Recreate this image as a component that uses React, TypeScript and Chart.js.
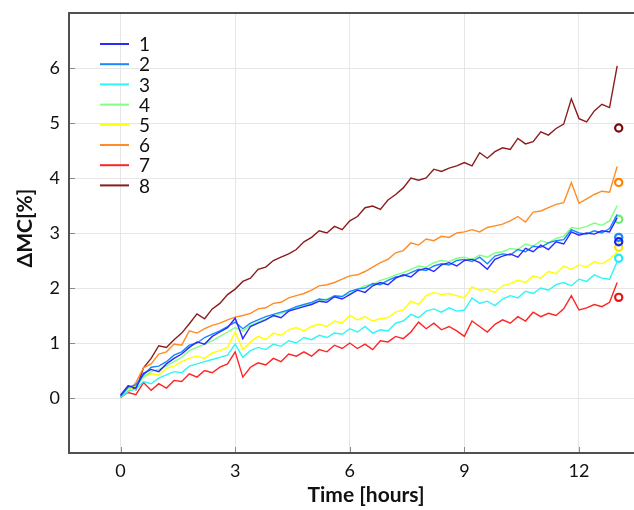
import React, { useEffect, useRef } from "react";
import { Chart, registerables } from "chart.js";

Chart.register(...registerables);

const TIMES = [
  0.0, 0.2, 0.4, 0.6, 0.8, 1.0, 1.2, 1.4, 1.6, 1.8, 2.0, 2.2, 2.4, 2.6, 2.8, 3.0, 3.2, 3.4, 3.6, 3.8,
  4.0, 4.2, 4.4, 4.6, 4.8, 5.0, 5.2, 5.4, 5.6, 5.8, 6.0, 6.2, 6.4, 6.6, 6.8, 7.0, 7.2, 7.4, 7.6, 7.8,
  8.0, 8.2, 8.4, 8.6, 8.8, 9.0, 9.2, 9.4, 9.6, 9.8, 10.0, 10.2, 10.4, 10.6, 10.8, 11.0, 11.2, 11.4, 11.6, 11.8,
  12.0, 12.2, 12.4, 12.6, 12.8, 13.0,
];

const S1 = [
  0.05, 0.22, 0.18, 0.45, 0.52, 0.48, 0.62, 0.72, 0.80, 0.92, 1.02, 0.98, 1.12, 1.20, 1.28, 1.45, 1.08, 1.30, 1.36, 1.42,
  1.50, 1.46, 1.58, 1.62, 1.66, 1.70, 1.76, 1.74, 1.84, 1.80, 1.88, 1.96, 1.92, 2.04, 2.10, 2.06, 2.18, 2.24, 2.20, 2.32,
  2.36, 2.30, 2.42, 2.46, 2.40, 2.50, 2.52, 2.46, 2.34, 2.52, 2.58, 2.62, 2.56, 2.72, 2.66, 2.78, 2.70, 2.84, 2.80, 3.02,
  2.96, 3.00, 2.98, 3.04, 3.02, 3.28,
];
const S2 = [
  0.03, 0.20, 0.24, 0.42, 0.56, 0.58, 0.66, 0.78, 0.84, 0.96, 1.00, 1.10, 1.16, 1.22, 1.30, 1.38, 1.26, 1.36, 1.42, 1.48,
  1.52, 1.56, 1.60, 1.66, 1.70, 1.74, 1.80, 1.78, 1.86, 1.84, 1.94, 1.98, 2.00, 2.08, 2.06, 2.14, 2.20, 2.22, 2.28, 2.34,
  2.32, 2.40, 2.44, 2.42, 2.50, 2.52, 2.48, 2.56, 2.44, 2.58, 2.62, 2.60, 2.70, 2.66, 2.76, 2.74, 2.82, 2.86, 2.88, 3.06,
  3.00, 2.98, 3.04, 3.00, 3.08, 3.34,
];
const S3 = [
  0.02, 0.12, 0.16, 0.30, 0.26, 0.36, 0.42, 0.48, 0.46, 0.58, 0.62, 0.66, 0.70, 0.74, 0.78, 0.98, 0.74, 0.86, 0.92, 0.88,
  0.98, 0.94, 1.04, 1.00, 1.10, 1.06, 1.14, 1.10, 1.18, 1.16, 1.26, 1.20, 1.30, 1.18, 1.24, 1.22, 1.36, 1.40, 1.52, 1.46,
  1.58, 1.62, 1.56, 1.64, 1.58, 1.60, 1.82, 1.72, 1.76, 1.68, 1.80, 1.86, 1.82, 1.94, 1.90, 2.00, 1.96, 2.06, 2.10, 2.04,
  2.16, 2.12, 2.24, 2.18, 2.16, 2.48,
];
const S4 = [
  0.02, 0.18, 0.20, 0.38, 0.48, 0.52, 0.58, 0.66, 0.74, 0.86, 0.92, 0.98, 1.04, 1.12, 1.20, 1.28, 1.22, 1.32, 1.38, 1.44,
  1.48, 1.54, 1.58, 1.64, 1.68, 1.72, 1.76, 1.80, 1.84, 1.86, 1.90, 1.98, 2.04, 2.06, 2.14, 2.18, 2.24, 2.28, 2.34, 2.40,
  2.38, 2.46, 2.50, 2.48, 2.54, 2.56, 2.52, 2.60, 2.56, 2.64, 2.66, 2.72, 2.70, 2.80, 2.76, 2.86, 2.82, 2.90, 2.94, 3.10,
  3.08, 3.12, 3.18, 3.14, 3.22, 3.50,
];
const S5 = [
  0.05, 0.15, 0.22, 0.38, 0.44, 0.42, 0.54, 0.58, 0.66, 0.72, 0.76, 0.72, 0.82, 0.86, 0.92, 1.20, 0.88, 1.02, 1.12, 1.06,
  1.18, 1.14, 1.24, 1.28, 1.22, 1.30, 1.34, 1.30, 1.40, 1.36, 1.50, 1.42, 1.48, 1.40, 1.44, 1.46, 1.56, 1.60, 1.76, 1.70,
  1.86, 1.92, 1.88, 1.90, 1.86, 1.82, 2.02, 1.96, 1.98, 1.92, 2.04, 2.08, 2.14, 2.10, 2.22, 2.18, 2.30, 2.26, 2.40, 2.34,
  2.42, 2.38, 2.48, 2.44, 2.52, 2.66,
];
const S6 = [
  0.00, 0.12, 0.28, 0.55, 0.62, 0.80, 0.84, 0.98, 0.96, 1.22, 1.18, 1.26, 1.32, 1.36, 1.42, 1.47, 1.50, 1.54, 1.62, 1.64,
  1.72, 1.74, 1.82, 1.86, 1.90, 1.96, 2.04, 2.06, 2.10, 2.16, 2.22, 2.24, 2.30, 2.38, 2.46, 2.52, 2.64, 2.68, 2.82, 2.78,
  2.89, 2.86, 2.94, 2.92, 3.00, 3.02, 3.06, 3.02, 3.10, 3.13, 3.16, 3.22, 3.30, 3.20, 3.38, 3.40, 3.46, 3.52, 3.55, 3.92,
  3.54, 3.62, 3.70, 3.76, 3.74, 4.21,
];
const S7 = [
  0.02, 0.10, 0.06, 0.28, 0.14, 0.26, 0.18, 0.32, 0.30, 0.44, 0.38, 0.50, 0.46, 0.56, 0.62, 0.84, 0.38, 0.56, 0.64, 0.60,
  0.72, 0.66, 0.80, 0.76, 0.84, 0.76, 0.88, 0.84, 0.96, 0.90, 1.00, 0.90, 0.98, 0.88, 1.04, 1.02, 1.12, 1.08, 1.20, 1.38,
  1.26, 1.36, 1.24, 1.30, 1.22, 1.12, 1.40, 1.30, 1.20, 1.34, 1.42, 1.36, 1.48, 1.40, 1.56, 1.48, 1.54, 1.50, 1.62, 1.86,
  1.60, 1.64, 1.70, 1.66, 1.74, 2.10,
];
const S8 = [
  0.05, 0.22, 0.15, 0.55, 0.72, 0.95, 0.92, 1.06, 1.18, 1.35, 1.53, 1.44, 1.62, 1.72, 1.88, 1.98, 2.12, 2.18, 2.34, 2.38,
  2.50, 2.56, 2.62, 2.70, 2.84, 2.92, 3.04, 3.00, 3.12, 3.06, 3.22, 3.30, 3.46, 3.49, 3.43, 3.60, 3.70, 3.82, 4.00, 3.96,
  4.00, 4.16, 4.12, 4.18, 4.22, 4.28, 4.22, 4.46, 4.36, 4.48, 4.55, 4.52, 4.72, 4.62, 4.66, 4.84, 4.78, 4.90, 4.98, 5.44,
  5.08, 5.02, 5.22, 5.34, 5.28, 6.04,
];

const SERIES_NAMES = ["1", "2", "3", "4", "5", "6", "7", "8"];
const SERIES = [S1, S2, S3, S4, S5, S6, S7, S8];
const COLORS = ["#2a2aff", "#1a86ff", "#2ff5f5", "#80ff80", "#ffff00", "#ff8c26", "#ff2424", "#8b1c1c"];
const END_TIME = 13.04;
const END_VALUES = [2.84, 2.92, 2.54, 3.25, 2.74, 3.92, 1.83, 4.91];
const END_COLORS = ["#2020ee", "#1a86ff", "#22e8ff", "#66ee66", "#f2e600", "#ff8000", "#ee1111", "#7a0a0a"];

const X_TICKS = [0, 3, 6, 9, 12];
const Y_TICKS = [0, 1, 2, 3, 4, 5, 6];
const X_TITLE = "Time [hours]";
const Y_TITLE = "\u0394MC[%]";

const FONT = "Lato, 'Open Sans', sans-serif";

const overlay = {
  id: "overlay",
  afterDraw(chart: any) {
    const ctx = chart.ctx;
    const a = chart.chartArea;
    const xs = chart.scales.x;
    const ys = chart.scales.y;
    ctx.save();
    // inward tick marks
    ctx.strokeStyle = "#8a8a8a";
    ctx.lineWidth = 1;
    X_TICKS.forEach((v) => {
      const px = Math.round(xs.getPixelForValue(v)) + 0.5;
      ctx.beginPath();
      ctx.moveTo(px, a.bottom);
      ctx.lineTo(px, a.bottom - 6);
      ctx.stroke();
    });
    Y_TICKS.forEach((v) => {
      const py = Math.round(ys.getPixelForValue(v)) + 0.5;
      ctx.beginPath();
      ctx.moveTo(a.left, py);
      ctx.lineTo(a.left + 6, py);
      ctx.stroke();
    });
    // axis lines
    ctx.strokeStyle = "#505050";
    ctx.lineWidth = 2;
    ctx.beginPath();
    ctx.moveTo(chart.width, a.top);
    ctx.lineTo(a.left, a.top);
    ctx.lineTo(a.left, a.bottom);
    ctx.lineTo(chart.width, a.bottom);
    ctx.stroke();
    // titles
    ctx.fillStyle = "#111";
    ctx.font = "bold 21px " + FONT;
    ctx.textAlign = "center";
    ctx.textBaseline = "middle";
    ctx.fillText(X_TITLE, 366, 495);
    ctx.save();
    ctx.translate(25, 228);
    ctx.rotate(-Math.PI / 2);
    ctx.fillText(Y_TITLE, 0, 0);
    ctx.restore();
    // legend
    ctx.font = "19px " + FONT;
    ctx.textAlign = "left";
    ctx.textBaseline = "middle";
    SERIES_NAMES.forEach((name, i) => {
      const y = 44 + i * 20.2;
      ctx.strokeStyle = COLORS[i];
      ctx.lineWidth = 2;
      ctx.beginPath();
      ctx.moveTo(100, y);
      ctx.lineTo(129, y);
      ctx.stroke();
      ctx.fillStyle = "#111";
      ctx.fillText(name, 139, y + 1);
    });
    ctx.restore();
  },
};

export default function App() {
  const ref = useRef<HTMLCanvasElement | null>(null);
  useEffect(() => {
    if (!ref.current) return;
    const datasets: any[] = SERIES.map((s, i) => ({
      label: SERIES_NAMES[i],
      data: TIMES.map((t, j) => ({ x: t, y: s[j] })),
      borderColor: COLORS[i],
      backgroundColor: COLORS[i],
      borderWidth: 1.4,
      pointRadius: 0,
      tension: 0,
      fill: false,
    }));
    END_VALUES.forEach((v, i) => {
      datasets.push({
        label: "end " + SERIES_NAMES[i],
        data: [{ x: END_TIME, y: v }],
        showLine: false,
        pointRadius: 3.6,
        pointBorderWidth: 2.2,
        pointBorderColor: END_COLORS[i],
        pointBackgroundColor: "rgba(255,255,255,0)",
        borderColor: END_COLORS[i],
      });
    });
    const chart = new Chart(ref.current, {
      type: "line",
      data: { datasets },
      options: {
        animation: false,
        responsive: false,
        layout: { autoPadding: false, padding: { left: 0, top: 13, right: 0, bottom: 0 } },
        plugins: { legend: { display: false }, tooltip: { enabled: false } },
        scales: {
          x: {
            type: "linear",
            min: -1.35,
            max: 13.44,
            afterBuildTicks: (s: any) => {
              s.ticks = X_TICKS.map((v) => ({ value: v }));
            },
            afterFit: (s: any) => {
              s.height = 57;
              s.paddingLeft = 0;
              s.paddingRight = 0;
            },
            grid: { color: "#e6e6e6", lineWidth: 1, drawTicks: false },
            border: { display: false },
            ticks: {
              color: "#111",
              font: { family: FONT, size: 18 },
              padding: 7,
              maxRotation: 0,
              autoSkip: false,
            },
          },
          y: {
            type: "linear",
            min: -1,
            max: 7,
            afterBuildTicks: (s: any) => {
              s.ticks = Y_TICKS.map((v) => ({ value: v }));
            },
            afterFit: (s: any) => {
              s.width = 69;
              s.paddingTop = 0;
              s.paddingBottom = 0;
            },
            grid: { color: "#e6e6e6", lineWidth: 1, drawTicks: false },
            border: { display: false },
            ticks: {
              color: "#111",
              font: { family: FONT, size: 18 },
              padding: 9,
              autoSkip: false,
            },
          },
        },
      },
      plugins: [overlay],
    });
    return () => chart.destroy();
  }, []);
  return (
    <div style={{ position: "fixed", left: 0, top: 0, width: 634, height: 510, background: "#fff" }}>
      <canvas ref={ref} width={634} height={510} />
    </div>
  );
}
